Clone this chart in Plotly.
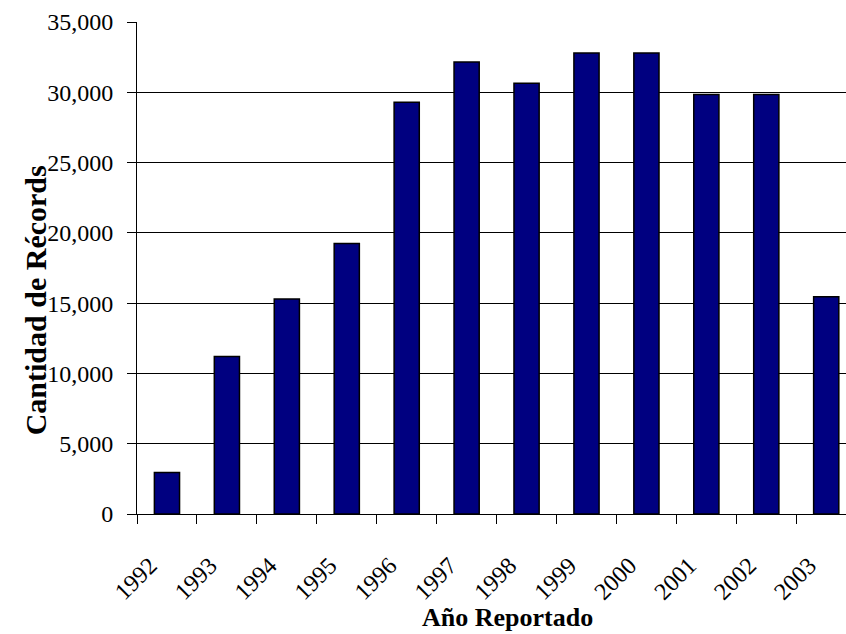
import plotly.graph_objects as go

years = ["1992", "1993", "1994", "1995", "1996", "1997",
         "1998", "1999", "2000", "2001", "2002", "2003"]
records = [2950, 11200, 15300, 19250, 29300, 32150,
           30650, 32800, 32800, 29850, 29850, 15450]

fig = go.Figure()

fig.add_trace(
    go.Bar(
        x=years,
        y=records,
        marker=dict(color="#000080", line=dict(color="#000000", width=1.5)),
        hovertemplate="%{x}: %{y:,}<extra></extra>",
    )
)

# axis titles as annotations so they sit where the original puts them
fig.add_annotation(
    text="<b>Año Reportado</b>",
    xref="paper", yref="paper",
    x=0.523, y=-0.2439,
    xanchor="center", yanchor="bottom",
    showarrow=False,
    font=dict(size=26),
)
fig.add_annotation(
    text="<b>Cantidad de Récords</b>",
    xref="paper", yref="paper",
    x=-0.142, y=0.435,
    xanchor="center", yanchor="middle",
    textangle=-90,
    showarrow=False,
    font=dict(size=30),
)

fig.update_layout(
    width=846,
    height=634,
    plot_bgcolor="white",
    paper_bgcolor="white",
    font=dict(family="Liberation Serif, Times New Roman, serif", size=24, color="black"),
    bargap=0.58,
    showlegend=False,
    margin=dict(l=137, r=0, t=22, b=120, autoexpand=False),
    xaxis=dict(
        type="category",
        range=[-0.5, 11.33],
        tickangle=-45,
        tickson="boundaries",
        ticks="outside",
        ticklen=9,
        tickcolor="#000000",
        ticklabelstandoff=27,
        ticklabelshift=-17,
        showline=True,
        linecolor="#000000",
        linewidth=1,
        showgrid=False,
    ),
    yaxis=dict(
        range=[0, 35000],
        dtick=5000,
        tickformat=",",
        ticks="outside",
        ticklen=9,
        tickcolor="#000000",
        ticklabelstandoff=9,
        showline=True,
        linecolor="#000000",
        linewidth=1,
        showgrid=True,
        gridcolor="#000000",
        gridwidth=1,
        zeroline=False,
    ),
)

fig.write_html(
    "out.html",
    config={"displayModeBar": False},
    post_script="document.body.style.margin='0';",
)
